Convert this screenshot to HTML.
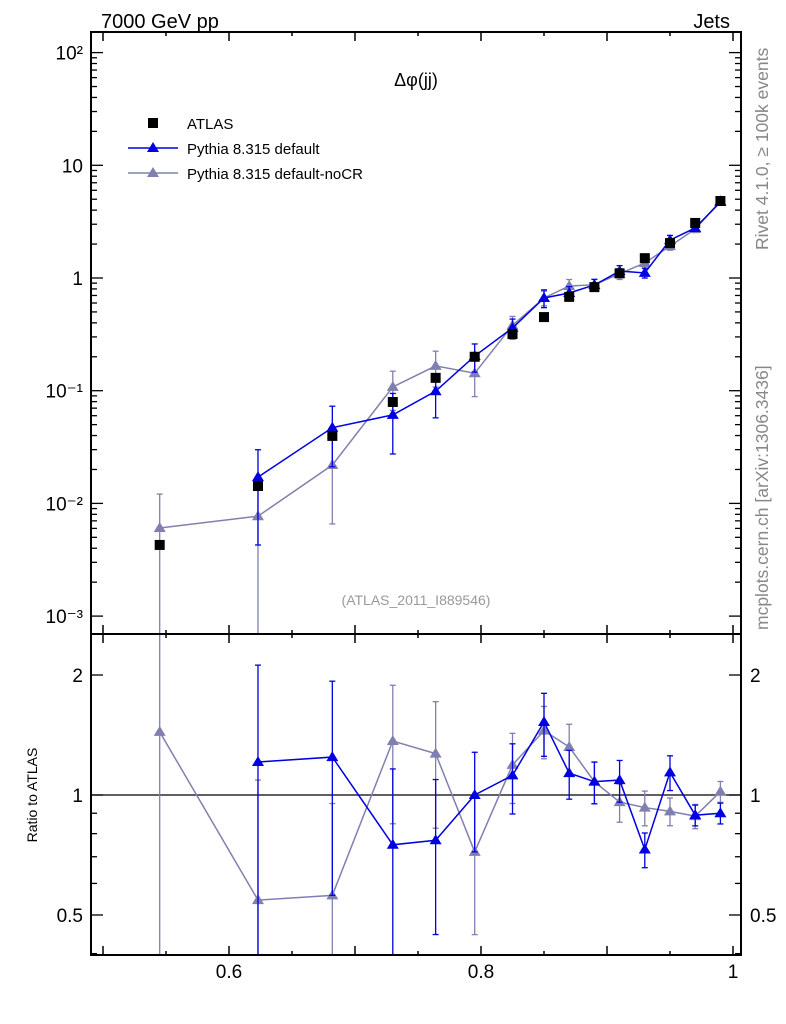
<!DOCTYPE html>
<html><head><meta charset="utf-8"><style>
html,body{margin:0;padding:0;background:#fff;overflow:hidden;width:786px;height:1024px;}
svg{display:block;font-family:"Liberation Sans",sans-serif;}
</style></head><body>
<svg id="chart" width="786" height="1024" viewBox="0 0 786 1024" xmlns="http://www.w3.org/2000/svg">
<text x="101" y="28" font-size="20">7000 GeV pp</text>
<text x="730" y="28" font-size="20" text-anchor="end">Jets</text>
<text transform="translate(768,250) rotate(-90)" font-size="17.5" fill="#888">Rivet 4.1.0, ≥ 100k events</text>
<text transform="translate(768,630) rotate(-90)" font-size="17.5" fill="#888">mcplots.cern.ch [arXiv:1306.3436]</text>
<text x="416" y="86" font-size="18" text-anchor="middle">Δφ(jj)</text>
<text x="416" y="605" font-size="14" fill="#999" text-anchor="middle">(ATLAS_2011_I889546)</text>
<text transform="translate(37,795) rotate(-90)" font-size="14" text-anchor="middle">Ratio to ATLAS</text>
<g id="legend">
<rect x="148" y="118" width="10" height="10" fill="#000"/>
<text x="187" y="129" font-size="15">ATLAS</text>
<line x1="128" y1="148" x2="178" y2="148" stroke="#0000e0" stroke-width="1.5"/>
<polygon points="153,142 159,152 147,152" fill="#0000e0"/>
<text x="187" y="154" font-size="15">Pythia 8.315 default</text>
<line x1="128" y1="173" x2="178" y2="173" stroke="#8080b0" stroke-width="1.5"/>
<polygon points="153,167 159,177 147,177" fill="#8080b0"/>
<text x="187" y="179" font-size="15">Pythia 8.315 default-noCR</text>
</g>
<g id="plot"></g>
</svg>
<script>
const xs = [0.545,0.623,0.682,0.73,0.764,0.795,0.825,0.85,0.87,0.89,0.91,0.93,0.95,0.97,0.99];
const atlas = [0.00428,0.01426,0.0397,0.0794,0.13,0.2,0.318,0.45,0.68,0.83,1.1,1.5,2.04,3.08,4.82];
const pyDef = [null,0.0171,0.047,0.061,0.099,0.203,0.36,0.665,0.736,0.867,1.15,1.11,2.17,2.78,4.72];
const pyNoCR = [0.00605,0.0077,0.0219,0.108,0.166,0.143,0.38,0.665,0.85,0.87,1.09,1.36,1.92,2.72,4.82];
const errDef = [null,0.75,0.55,0.55,0.42,0.28,0.2,0.18,0.14,0.12,0.12,0.1,0.1,0.06,0.06];
const errNoCR = [1.0,1.0,0.7,0.38,0.35,0.38,0.2,0.15,0.14,0.12,0.11,0.1,0.08,0.07,0.06];
const ratioDef = [null,1.21,1.245,0.75,0.77,1.0,1.12,1.525,1.135,1.08,1.09,0.73,1.14,0.89,0.9];
const ratioNoCR = [1.44,0.545,0.56,1.366,1.27,0.72,1.19,1.45,1.32,1.08,0.96,0.93,0.91,0.885,1.02];
const xTicks = [0.6,0.8,1];
const yTicks = [-3,-2,-1,0,1,2];
const yTickLabels = ["10⁻³","10⁻²","10⁻¹","1","10","10²"];
const rTicks = [0.5,1,2];

const L=91,R=741,T=32,M=634,B=955;
const X=v=>229+(v-0.6)*1260;
const Y=v=>278-Math.log10(v)*112.7;
const RY=v=>795-Math.log10(v)*398.6;
const NS="http://www.w3.org/2000/svg";
const g=document.getElementById('plot');
function el(t,a,p){const e=document.createElementNS(NS,t);for(const k in a)e.setAttribute(k,a[k]);(p||g).appendChild(e);return e;}
const clipD=el('clipPath',{id:'cm'});el('rect',{x:L,y:T,width:R-L,height:M-T},clipD);
const clipR=el('clipPath',{id:'cr'});el('rect',{x:L,y:M,width:R-L,height:B-M},clipR);
const gm=el('g',{'clip-path':'url(#cm)'});


const gr=el('g',{'clip-path':'url(#cr)'});


const ref=el('line',{x1:L,x2:R,y1:RY(1),y2:RY(1),stroke:'#000','stroke-width':1.2},gr);


function tri(x,y,c,p,name){const t=el('polygon',{points:`${x},${y-6} ${x+6},${y+4} ${x-6},${y+4}`,fill:c},p);

}
function series(vals,errs,yf,c,p,name,top,bot){
 let pts=[];
 vals.forEach((v,i)=>{if(v==null)return;pts.push(X(xs[i])+','+yf(v));});
 const pl=el('polyline',{points:pts.join(' '),fill:'none',stroke:c,'stroke-width':1.5},p);
 
 
 vals.forEach((v,i)=>{if(v==null)return;const x=X(xs[i]);const e=errs[i];
  let lo=v*(1-e)>0?yf(v*(1-e)):bot; let hi=yf(v*(1+e));
  const loCap=lo<bot; lo=Math.min(lo,bot); hi=Math.max(hi,top);
  el('line',{x1:x,x2:x,y1:lo,y2:hi,stroke:c,'stroke-width':1.3},p);
  el('line',{x1:x-3,x2:x+3,y1:hi,y2:hi,stroke:c,'stroke-width':1.3},p);
  if(loCap)el('line',{x1:x-3,x2:x+3,y1:lo,y2:lo,stroke:c,'stroke-width':1.3},p);
  tri(x,yf(v),c,p,name+'-point');});
}
series(pyNoCR,errNoCR,Y,'#8080b0',gm,'nocr',T,M);
series(pyDef,errDef,Y,'#0000e0',gm,'default',T,M);
atlas.forEach((v,i)=>{const r=el('rect',{x:X(xs[i])-5,y:Y(v)-5,width:10,height:10,fill:'#000'},gm);

});
series(ratioNoCR,errNoCR,RY,'#8080b0',gr,'ratio-nocr',M,B);
series(ratioDef,errDef,RY,'#0000e0',gr,'ratio-default',M,B);
[[T,M],[M,B]].forEach(([a,b])=>el('rect',{x:L,y:a,width:R-L,height:b-a,fill:'none',stroke:'#000','stroke-width':2}));
for(let k=0;k<=10;k++){const v=0.5+k*0.05;const x=X(v);const maj=(k%2==0);const len=maj?9:4;
 [M,B].forEach(b=>el('line',{x1:x,x2:x,y1:b,y2:b-len,stroke:'#000','stroke-width':1.5}));
 [T,M].forEach(t=>el('line',{x1:x,x2:x,y1:t,y2:t+len,stroke:'#000','stroke-width':1.5}));}
xTicks.forEach(v=>{const t=el('text',{x:X(v),y:978,'font-size':19,'text-anchor':'middle'});t.textContent=String(v);

});
yTicks.forEach((d,i)=>{for(let m=1;m<10;m++){const v=Math.pow(10,d)*m;const y=Y(v);if(y<T||y>M)continue;const len=m==1?12:6;
 el('line',{x1:L,x2:L+len,y1:y,y2:y,stroke:'#000','stroke-width':1.3});el('line',{x1:R,x2:R-len,y1:y,y2:y,stroke:'#000','stroke-width':1.3});}
 const t=el('text',{x:83,y:Y(Math.pow(10,d))+7,'font-size':19,'text-anchor':'end'});t.textContent=yTickLabels[i];
 
 });
[0.4,0.5,0.6,0.7,0.8,0.9,1,2].forEach(v=>{const y=RY(v);const maj=rTicks.includes(v);const len=maj?12:6;
 el('line',{x1:L,x2:L+len,y1:y,y2:y,stroke:'#000','stroke-width':1.3});el('line',{x1:R,x2:R-len,y1:y,y2:y,stroke:'#000','stroke-width':1.3});});
rTicks.forEach(v=>{[[83,'end'],[750,'start']].forEach(([x,a])=>{const t=el('text',{x:x,y:RY(v)+7,'font-size':19,'text-anchor':a});t.textContent=String(v);
 
 });});
</script>
</body></html>
